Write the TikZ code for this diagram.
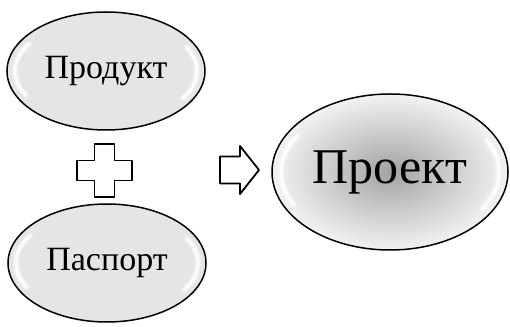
\documentclass[tikz,border=0pt]{standalone}
\usepackage{fontspec}
\setmainfont{Liberation Serif}
\usetikzlibrary{shapes.geometric,calc}

\tikzset{
  x=1pt, y=1pt,
  smalltext/.style={font=\fontsize{34}{40}\selectfont},
  bigtext/.style={font=\fontsize{50}{60}\selectfont},
  bubble/.style={ellipse, draw=black, line width=1.5pt, inner sep=0pt,
    fill=black!10, minimum width=198pt, minimum height=118pt},
  bigbubble/.style={ellipse, draw=black, line width=1.5pt, inner sep=0pt,
    shading=radial, inner color=black!36, outer color=black!5,
    minimum width=236pt, minimum height=156pt},
  sign/.style={draw=black, line width=1.8pt, fill=white, line join=round},
  gloss/.style={white, line cap=round}
}

% soft white reflections along the inner rim of an ellipse node
% #1 node name, #2 x radius, #3 y radius
\newcommand{\glossrim}[3]{%
  \foreach \w/\o in {7/0.25, 5/0.35, 3/0.5, 1.5/0.8}{%
    \draw[gloss, line width=\w pt, opacity=\o]
      ($(#1.center)+(148:#2 and #3)$) arc[start angle=148, end angle=208, x radius=#2, y radius=#3];
    \draw[gloss, line width=\w pt, opacity=\o]
      ($(#1.center)+(-32:#2 and #3)$) arc[start angle=-32, end angle=28, x radius=#2, y radius=#3];
  }%
}

\begin{document}
\begin{tikzpicture}
  \useasboundingbox (0,0) rectangle (510,326);

  \node[bubble]    (product)  at (106,255) {};
  \node[bubble]    (passport) at (107,63)  {};
  \node[bigbubble] (project)  at (390,154) {};

  \begin{scope}
    \clip (product.center) ellipse (98pt and 58pt);
    \glossrim{product}{91pt}{51pt}
  \end{scope}
  \begin{scope}
    \clip (passport.center) ellipse (98pt and 58pt);
    \glossrim{passport}{91pt}{51pt}
  \end{scope}
  \begin{scope}
    \clip (project.center) ellipse (117pt and 77pt);
    \glossrim{project}{109pt}{69pt}
  \end{scope}

  % labels sit on top of the reflections
  \node[smalltext] (productlabel)  at (product.center)  {Продукт};
  \node[smalltext] (passportlabel) at (passport.center) {Паспорт};
  \node[bigtext]   (projectlabel)  at (project.center)  {Проект};

  % plus sign between the two inputs
  \coordinate (plus) at (104.5,155.5);
  \draw[sign] ($(plus)+(-10,26.5)$) -- ++(20,0) -- ++(0,-16.5) -- ++(17.5,0)
    -- ++(0,-20) -- ++(-17.5,0) -- ++(0,-16.5) -- ++(-20,0) -- ++(0,16.5)
    -- ++(-17.5,0) -- ++(0,20) -- ++(17.5,0) -- cycle;

  % block arrow towards the result
  \coordinate (arrow) at (220,156);
  \draw[sign] ($(arrow)+(0,13.5)$) -- ++(20,0) -- ++(0,10.5) -- ++(19,-24)
    -- ++(-19,-24) -- ++(0,10.5) -- ++(-20,0) -- cycle;
\end{tikzpicture}
\end{document}
